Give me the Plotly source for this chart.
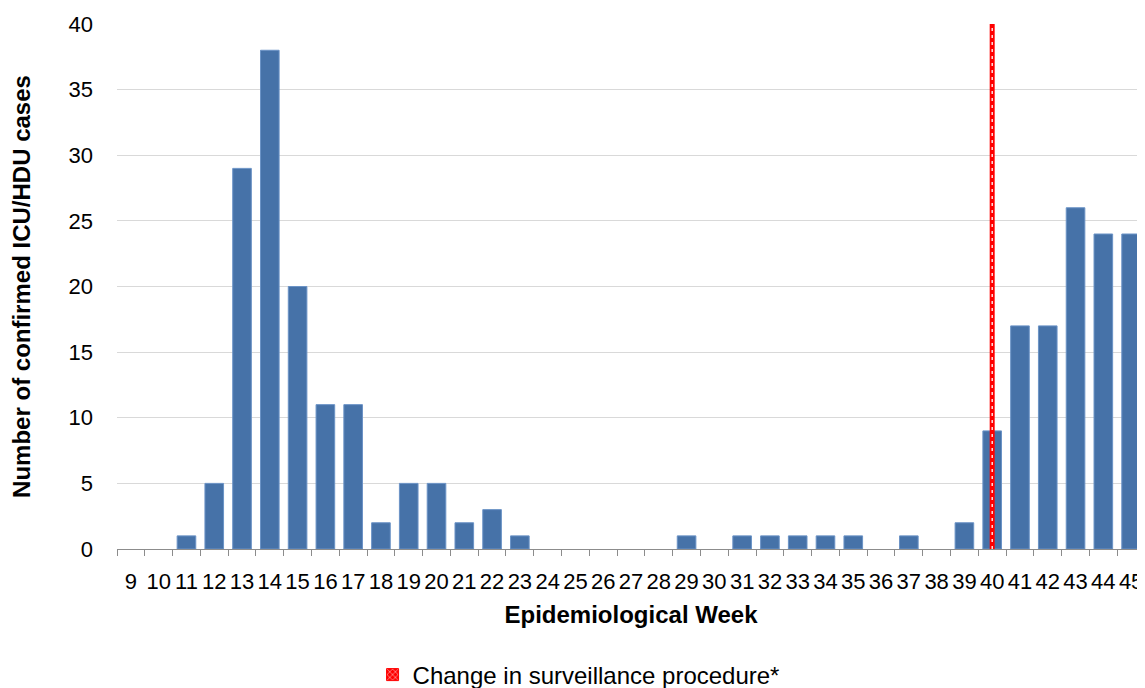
import plotly.graph_objects as go

weeks = list(range(9, 46))
cases = [0, 0, 1, 5, 29, 38, 20, 11, 11, 2, 5, 5, 2, 3, 1, 0, 0, 0, 0, 0, 1, 0,
         1, 1, 1, 1, 1, 0, 1, 0, 2, 9, 17, 17, 26, 24, 24]
change_week = 40
y_max = 40
legend_label = "Change in surveillance procedure*"

FONT = "Liberation Sans, Arial, sans-serif"

# zero weeks draw no bar at all
bar_y = [v if v > 0 else None for v in cases]

fig = go.Figure()
fig.add_trace(go.Bar(
    x=weeks, y=bar_y, width=0.67,
    marker=dict(color="#4672A8", line=dict(color="#6b93c6", width=1)),
    showlegend=False,
))
# change-in-procedure line
fig.add_trace(go.Scatter(
    x=[change_week, change_week], y=[0, y_max], mode="lines",
    line=dict(color="#ff0000", width=5), showlegend=False, hoverinfo="skip",
))
fig.add_trace(go.Scatter(
    x=[change_week, change_week], y=[0, y_max], mode="lines",
    line=dict(color="#ffffff", width=1.3, dash="3px,4px"), showlegend=False, hoverinfo="skip",
))
# legend entry
fig.add_trace(go.Bar(
    x=[None], y=[None], name=legend_label,
    marker=dict(color="#ff0000", line=dict(color="#ff0000", width=1),
                pattern=dict(shape="x", fgcolor="#ffffff", bgcolor="#ff0000", size=5, solidity=0.4)),
    showlegend=True,
))

fig.update_layout(
    width=1137, height=680,
    margin=dict(l=109, r=0, t=16, b=139, autoexpand=False),
    paper_bgcolor="white", plot_bgcolor="white",
    font=dict(family=FONT, size=22, color="#000000"),
    legend=dict(orientation="h", x=0.449, xanchor="center", y=-0.240, yanchor="middle",
                font=dict(size=24), itemwidth=30, bgcolor="rgba(0,0,0,0)"),
    xaxis=dict(
        range=[8.5, 45.5], tickmode="array", tickvals=weeks, ticktext=[str(w) for w in weeks],
        ticks="outside", ticklen=13, tickcolor="rgba(0,0,0,0)",
        showgrid=False, zeroline=False, automargin=False,
        showline=True, linecolor="#8c8c8c", linewidth=1,
        minor=dict(tickmode="linear", tick0=8.5, dtick=1, ticks="outside", ticklen=6,
                   tickcolor="#8c8c8c", tickwidth=1, showgrid=False),
        tickfont=dict(size=22),
        title=dict(text="<b>Epidemiological Week</b>", font=dict(size=24), standoff=12),
    ),
    yaxis=dict(
        range=[0, y_max], dtick=5, showgrid=True, gridcolor="#d9d9d9", gridwidth=1,
        zeroline=False, showline=False, ticks="", ticklabelstandoff=23, automargin=False,
        tickfont=dict(size=22),
        title=dict(text="<b>Number of confirmed ICU/HDU cases</b>", font=dict(size=24), standoff=31),
    ),
)

fig.write_html("out.html")
